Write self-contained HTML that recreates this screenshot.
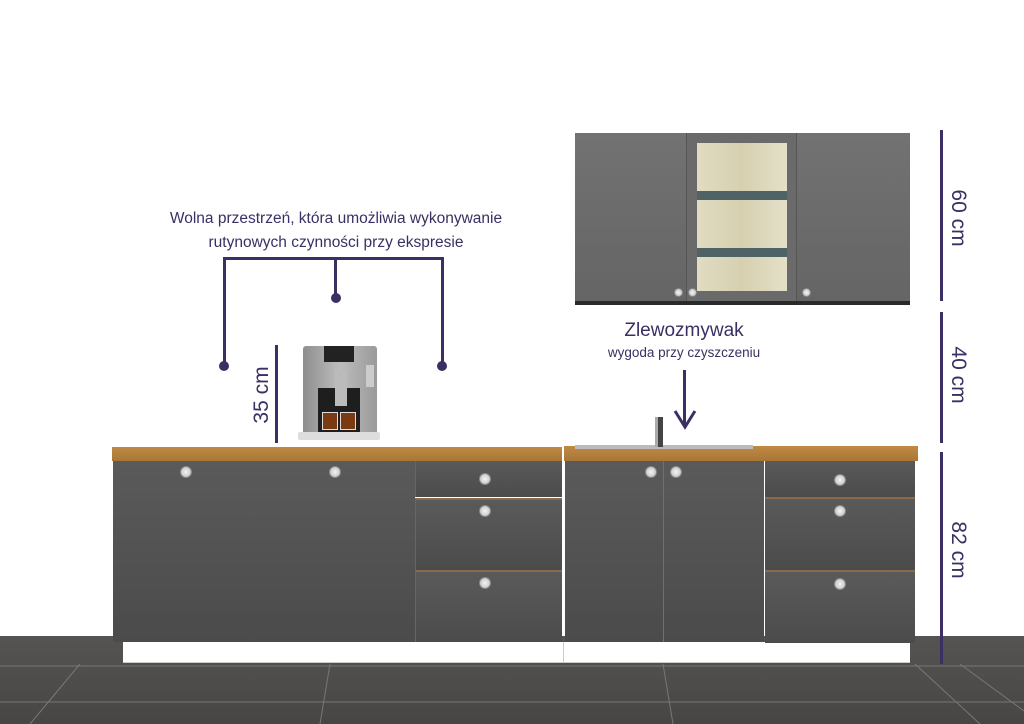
<!DOCTYPE html>
<html><head><meta charset="utf-8"><style>
body{margin:0;width:1024px;height:724px;position:relative;overflow:hidden;background:#fff;font-family:"Liberation Sans",sans-serif}
div{position:absolute;box-sizing:border-box}
.c{background:linear-gradient(#5a5a5a,#4b4b4b)}
.k{width:12px;height:12px;border-radius:50%;background:radial-gradient(#f4f4f4,#b8b8b8);border:1px solid #888}
.top{background:linear-gradient(#c08a45,#a87636);}
.l{background:#3b2f63}
.dot{width:10px;height:10px;border-radius:50%;background:#3b2f63}
.t{color:#3b2f63;white-space:nowrap}
.r{transform:rotate(90deg);transform-origin:center;font-size:21px}
</style></head><body>
<!-- floor -->
<div style="left:0;top:636px;width:1024px;height:88px;background:linear-gradient(#555452,#474644)"></div>
<svg style="position:absolute;left:0;top:636px" width="1024" height="88"><g stroke="#777" stroke-width="1" fill="none"><line x1="0" y1="30" x2="1024" y2="30"/><line x1="0" y1="66" x2="1024" y2="66"/><line x1="663" y1="28" x2="673" y2="88"/><line x1="915" y1="28" x2="980" y2="88"/><line x1="960" y1="28" x2="1024" y2="75"/><line x1="330" y1="28" x2="320" y2="88"/><line x1="80" y1="28" x2="30" y2="88"/></g></svg>
<!-- plinths -->
<div style="left:123px;top:642px;width:787px;height:21px;background:#fff;border-bottom:1px solid #ccc"></div>
<div style="left:563px;top:642px;width:1px;height:21px;background:#ccc"></div>
<!-- countertops -->
<div class="top" style="left:112px;top:447px;width:450px;height:14px"></div>
<div class="top" style="left:564px;top:446px;width:354px;height:15px"></div>
<!-- left cabinets -->
<div class="c" style="left:113px;top:461px;width:302px;height:181px"></div>
<div class="c" style="left:415px;top:461px;width:147px;height:36px;border-left:1px solid #666"></div>
<div class="c" style="left:415px;top:498px;width:147px;height:72px;border-top:2px solid #8a6a48;border-left:1px solid #666"></div>
<div class="c" style="left:415px;top:570px;width:147px;height:72px;border-top:2px solid #8a6a48;border-left:1px solid #666"></div>
<div class="k" style="left:180px;top:466px"></div><div class="k" style="left:329px;top:466px"></div>
<div class="k" style="left:479px;top:473px"></div><div class="k" style="left:479px;top:505px"></div><div class="k" style="left:479px;top:577px"></div>
<!-- sink cabinet -->
<div class="c" style="left:565px;top:461px;width:99px;height:181px;border-right:1px solid #8a6a48"></div>
<div class="c" style="left:664px;top:461px;width:100px;height:181px"></div>
<div class="k" style="left:645px;top:466px"></div><div class="k" style="left:670px;top:466px"></div>
<div class="c" style="left:765px;top:461px;width:150px;height:36px"></div>
<div class="c" style="left:765px;top:497px;width:150px;height:73px;border-top:2px solid #8a6a48"></div>
<div class="c" style="left:765px;top:570px;width:150px;height:73px;border-top:2px solid #8a6a48"></div>
<div class="k" style="left:834px;top:474px"></div><div class="k" style="left:834px;top:505px"></div><div class="k" style="left:834px;top:578px"></div>
<!-- sink -->
<div style="left:575px;top:445px;width:178px;height:4px;background:#bbb"></div>
<div style="left:655px;top:417px;width:8px;height:30px;background:#444;border-left:3px solid #aaa"></div>
<!-- upper cabinet -->
<div style="left:575px;top:133px;width:335px;height:172px;background:linear-gradient(#727272,#656565);border-bottom:4px solid #2a2a2a"></div>
<div style="left:686px;top:133px;width:111px;height:168px;background:#6a6a6a;border-left:1px solid #555;border-right:1px solid #555"></div>
<div style="left:697px;top:143px;width:90px;height:148px;background:linear-gradient(90deg,#e0dcc2,#d6d0b0,#e4e0c8)"></div>
<div style="left:697px;top:191px;width:90px;height:9px;background:#4f6366"></div>
<div style="left:697px;top:248px;width:90px;height:9px;background:#4f6366"></div>
<div class="k" style="left:674px;top:288px;width:9px;height:9px"></div><div class="k" style="left:688px;top:288px;width:9px;height:9px"></div><div class="k" style="left:802px;top:288px;width:9px;height:9px"></div>
<!-- coffee machine -->
<div style="left:303px;top:346px;width:74px;height:92px;background:linear-gradient(90deg,#8e8e8e,#bdbdbd,#9a9a9a);border-radius:3px"></div>
<div style="left:324px;top:346px;width:30px;height:16px;background:#222"></div>
<div style="left:318px;top:388px;width:42px;height:45px;background:#1e1e1e"></div>
<div style="left:335px;top:370px;width:12px;height:36px;background:#bbb"></div>
<div style="left:322px;top:412px;width:16px;height:18px;background:#7a3a12;border:1px solid #ddd"></div>
<div style="left:340px;top:412px;width:16px;height:18px;background:#7a3a12;border:1px solid #ddd"></div>
<div style="left:298px;top:432px;width:82px;height:8px;background:#ddd;border-radius:2px"></div>
<div style="left:366px;top:365px;width:8px;height:22px;background:#ccc"></div>
<!-- annotations -->
<div class="t" style="left:136px;top:207px;width:400px;text-align:center;font-size:15.5px;line-height:24px">Wolna przestrzeń, która umożliwia wykonywanie<br>rutynowych czynności przy ekspresie</div>
<div class="l" style="left:223px;top:257px;width:221px;height:3px"></div>
<div class="l" style="left:223px;top:257px;width:3px;height:108px"></div>
<div class="l" style="left:441px;top:257px;width:3px;height:108px"></div>
<div class="l" style="left:334px;top:257px;width:3px;height:40px"></div>
<div class="dot" style="left:219px;top:361px"></div><div class="dot" style="left:437px;top:361px"></div><div class="dot" style="left:331px;top:293px"></div>
<div class="l" style="left:275px;top:345px;width:3px;height:98px"></div>
<div class="t" style="left:222px;top:383px;width:80px;text-align:center;font-size:21px;transform:rotate(-90deg)">35 cm</div>
<div class="t" style="left:584px;top:320px;width:200px;text-align:center;font-size:19px">Zlewozmywak</div>
<div class="t" style="left:584px;top:345px;width:200px;text-align:center;font-size:13.5px">wygoda przy czyszczeniu</div>
<div class="l" style="left:683px;top:370px;width:3px;height:56px"></div>
<svg style="position:absolute;left:672px;top:408px" width="26" height="22"><polyline points="3,3 13,19 23,3" fill="none" stroke="#3b2f63" stroke-width="3"/></svg>
<div class="l" style="left:940px;top:130px;width:3px;height:171px"></div>
<div class="l" style="left:940px;top:312px;width:3px;height:131px"></div>
<div class="l" style="left:940px;top:452px;width:3px;height:212px"></div>
<div class="t r" style="left:918px;top:206px;width:80px;text-align:center">60 cm</div>
<div class="t r" style="left:918px;top:363px;width:80px;text-align:center">40 cm</div>
<div class="t r" style="left:918px;top:538px;width:80px;text-align:center">82 cm</div>
</body></html>
